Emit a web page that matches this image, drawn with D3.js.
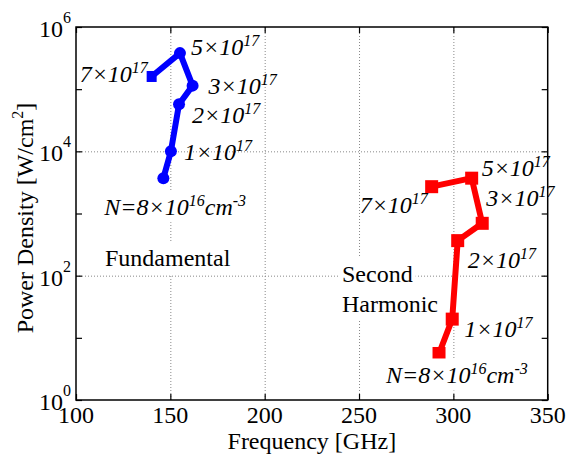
<!DOCTYPE html>
<html>
<head>
	<meta charset="utf-8" />
	<title>Power density vs frequency</title>
	<script src="https://cdn.jsdelivr.net/npm/d3@7"></script>
	<style>
		body { margin: 0; background: #fff; }
	</style>
</head>
<body>
<script>
// doping levels, same order for both curves
var densityLabels = ["N=8×10^{16}cm^{-3}", "1×10^{17}", "2×10^{17}", "3×10^{17}", "5×10^{17}", "7×10^{17}"];

// fundamental (blue)
var fundFreq  = [146.3, 150.3, 154.6, 161.8, 155.1, 140.1];
var fundPower = [3.7e3, 1.0e4, 5.7e4, 1.14e5, 3.8e5, 1.6e5];

// second harmonic (red)
var harmFreq  = [292.4, 299.4, 302.3, 315.3, 309.7, 288.5];
var harmPower = [5.6, 20, 366, 695, 3.7e3, 2.7e3];

var xTicks = [100, 150, 200, 250, 300, 350];
var yTicks = [1, 10, 100, 1e3, 1e4, 1e5, 1e6];
var yLabelTicks = [1, 1e2, 1e4, 1e6];

// label placement relative to each point (pixels)
var fundLabelOffset = [[-59, 37], [13, 9], [13, 19], [16, 8], [11, 2], [-72, 6]];
var harmLabelOffset = [[-53, 30], [12, 18], [10, 27], [4, -17], [10, -2], [-72, 26]];

var font = "'Liberation Serif', 'Times New Roman', serif";
var W = 566, H = 458;
var pL = 76, pR = 547.7, pT = 27, pB = 400;

var svg = d3.select("body").append("svg")
			.attr("width", W)
			.attr("height", H)
			.style("font-family", font);

svg.append("rect").attr("width", W).attr("height", H).attr("fill", "#fff");

var x = d3.scaleLinear().domain([100, 350]).range([pL, pR]);
var y = d3.scaleLog().domain([1, 1e6]).range([pB, pT]);

// grid
var gx = svg.append("g")
		.attr("transform", "translate(0," + pB + ")")
		.call(d3.axisBottom(x).tickValues([150, 200, 250, 300]).tickSize(-(pB - pT)).tickFormat(""));
var gy = svg.append("g")
		.attr("transform", "translate(" + pL + ",0)")
		.call(d3.axisLeft(y).tickValues([1e2, 1e4]).tickSize(-(pR - pL)).tickFormat(""));
[gx, gy].forEach(function(g){
	g.select(".domain").remove();
	g.selectAll("line").attr("stroke", "#888").attr("stroke-width", 1).attr("stroke-dasharray", "1,2");
});

// helper: text with ^{...} superscripts
function rich(t, str, big, small, raise) {
	var parts = str.split(/\^\{([^}]*)\}/);
	var up = false;
	parts.forEach(function(p, i){
		if (!p) return;
		var sup = i % 2 === 1;
		var dy = 0;
		if (sup && !up) { dy = -raise; up = true; }
		else if (!sup && up) { dy = raise; up = false; }
		t.append("tspan").attr("font-size", sup ? small : big).attr("dy", dy).text(p);
	});
	return t;
}

function backing(t, pad) {
	var b = t.node().getBBox();
	svg.insert("rect", function(){ return t.node(); })
		.attr("x", b.x - pad).attr("y", b.y - pad)
		.attr("width", b.width + 2 * pad).attr("height", b.height + 2 * pad)
		.attr("fill", "#fff");
}

// curves
function series(fx, py, color, offsets, square) {
	var pts = fx.map(function(f, i){ return { f: f, p: py[i], lab: densityLabels[i], off: offsets[i] }; });
	var line = d3.line().x(function(d){ return x(d.f); }).y(function(d){ return y(d.p); });
	svg.append("path").datum(pts)
		.attr("d", line)
		.attr("fill", "none")
		.attr("stroke", color)
		.attr("stroke-width", 6)
		.attr("stroke-linejoin", "round");
	if (square) {
		svg.selectAll(null).data(pts).enter().append("rect")
			.attr("x", function(d){ return x(d.f) - 6.5; })
			.attr("y", function(d){ return y(d.p) - 6.5; })
			.attr("width", 13).attr("height", 13)
			.attr("fill", color);
	} else {
		svg.selectAll(null).data(pts.slice(0, -1)).enter().append("circle")
			.attr("cx", function(d){ return x(d.f); })
			.attr("cy", function(d){ return y(d.p); })
			.attr("r", 6)
			.attr("fill", color);
		var last = pts[pts.length - 1];
		svg.append("rect")
			.attr("x", x(last.f) - 5).attr("y", y(last.p) - 5.5)
			.attr("width", 10).attr("height", 11)
			.attr("fill", color);
	}
	pts.forEach(function(d, i){
		var t = svg.append("text")
			.attr("x", x(d.f) + d.off[0])
			.attr("y", y(d.p) + d.off[1])
			.attr("font-style", "italic")
			.attr("fill", "#000");
		rich(t, d.lab, 24, 16, 9);
		if (i === 0) backing(t, 2);
	});
}

series(fundFreq, fundPower, "#0000ff", fundLabelOffset, false);
series(harmFreq, harmPower, "#ff0000", harmLabelOffset, true);

// annotations
function plain(str, px, py) {
	var t = svg.append("text").attr("x", px).attr("y", py).attr("font-size", 24).text(str);
	backing(t, 3);
}
plain("Fundamental", 105, 266);
plain("Second", 342, 282);
plain("Harmonic", 342, 312);

// ticks (inward) on all four sides
function ticks(axis, tx, ty, vals) {
	var g = svg.append("g").attr("transform", "translate(" + tx + "," + ty + ")")
		.call(axis.tickValues(vals).tickSizeInner(-6).tickSizeOuter(0).tickFormat(""));
	g.select(".domain").remove();
	g.selectAll("line").attr("stroke", "#000").attr("stroke-width", 1.2);
}
ticks(d3.axisBottom(x), 0, pB, xTicks);
ticks(d3.axisTop(x), 0, pT, xTicks);
ticks(d3.axisLeft(y), pL, 0, yTicks);
ticks(d3.axisRight(y), pR, 0, yTicks);

// frame
svg.append("rect")
	.attr("x", pL).attr("y", pT)
	.attr("width", pR - pL).attr("height", pB - pT)
	.attr("fill", "none").attr("stroke", "#000").attr("stroke-width", 1.5);

// tick labels
svg.selectAll(null).data(xTicks).enter().append("text")
	.attr("x", function(d){ return x(d); })
	.attr("y", pB + 23)
	.attr("text-anchor", "middle")
	.attr("font-size", 24)
	.text(function(d){ return d; });

yLabelTicks.forEach(function(v){
	var t = svg.append("text")
		.attr("x", pL - 5)
		.attr("y", y(v) + 10)
		.attr("text-anchor", "end");
	rich(t, "10^{" + Math.round(Math.log10(v)) + "}", 24, 16, 14);
});

// axis titles
svg.append("text")
	.attr("x", (pL + pR) / 2)
	.attr("y", 449)
	.attr("text-anchor", "middle")
	.attr("font-size", 24)
	.text("Frequency [GHz]");

var yt = svg.append("text")
	.attr("transform", "translate(33,218) rotate(-90)")
	.attr("text-anchor", "middle");
rich(yt, "Power Density [W/cm^{2}]", 24, 16, 10);
</script>
</body>
</html>
